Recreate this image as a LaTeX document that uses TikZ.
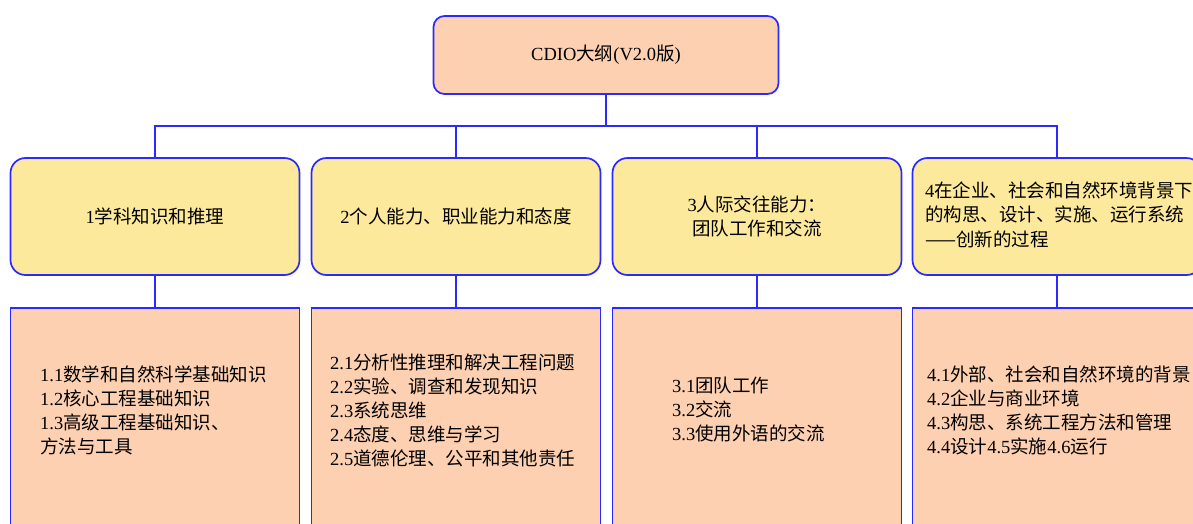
\documentclass[tikz,border=0pt]{standalone}
\usepackage{fontspec}
\setmainfont{Liberation Serif}
\newfontfamily\cjk{Noto Sans CJK SC}
\definecolor{peach}{HTML}{FDD0B1}
\definecolor{yel}{HTML}{FDE99B}
\definecolor{bl}{HTML}{2A2AFF}
\tikzset{
  topbox/.style={draw=bl, line width=1.7pt, fill=peach, rounded corners=11pt,
    minimum width=345pt, minimum height=78pt, inner sep=0pt,
    font=\fontsize{18.5}{24}\selectfont},
  ybox/.style={draw=bl, line width=1.7pt, fill=yel, rounded corners=15pt,
    minimum width=289pt, minimum height=117pt, inner sep=0pt, align=center,
    font=\fontsize{18.5}{24}\selectfont},
  pbox/.style={draw=bl, line width=1.7pt, fill=peach,
    minimum width=289pt, minimum height=260pt, inner sep=0pt, anchor=north},
  conn/.style={draw=bl, line width=1.6pt},
  txt/.style={font=\fontsize{18.5}{24}\selectfont, align=left, inner sep=0pt, anchor=west},
}
\begin{document}
\begin{tikzpicture}[x=1pt,y=-1pt]
\useasboundingbox (0,0) rectangle (1193,523);
\clip (0,0) rectangle (1193,523);
% top
\node[topbox] (top) at (606,55) {CDIO{\cjk 大纲}(V2.0{\cjk 版})};
% second level
\node[ybox] (y1) at (155,216.5) {1{\cjk 学科知识和推理}};
\node[ybox] (y2) at (456,216.5) {2{\cjk 个人能力、职业能力和态度}};
\node[ybox] (y3) at (757,216.5) {3{\cjk 人际交往能力：}\\{\cjk 团队工作和交流}};
\node[ybox] (y4) at (1057,216.5) {};
\node[txt, font=\fontsize{18.5}{24.5}\selectfont] (t4) at (925,214.5)
  {4{\cjk 在企业、社会和自然环境背景下}\\{\cjk 的构思、设计、实施、运行系统}\\{\cjk ——创新的过程}};
% third level
\node[pbox] (p1) at (155,307) {};
\node[pbox] (p2) at (456,307) {};
\node[pbox] (p3) at (757,307) {};
\node[pbox] (p4) at (1057,307) {};
\node[txt] (q1) at (40,410) {1.1{\cjk 数学和自然科学基础知识}\\1.2{\cjk 核心工程基础知识}\\1.3{\cjk 高级工程基础知识、}\\{\cjk 方法与工具}};
\node[txt] (q2) at (330,410) {2.1{\cjk 分析性推理和解决工程问题}\\2.2{\cjk 实验、调查和发现知识}\\2.3{\cjk 系统思维}\\2.4{\cjk 态度、思维与学习}\\2.5{\cjk 道德伦理、公平和其他责任}};
\node[txt] (q3) at (672,410) {3.1{\cjk 团队工作}\\3.2{\cjk 交流}\\3.3{\cjk 使用外语的交流}};
\node[txt] (q4) at (927,410) {4.1{\cjk 外部、社会和自然环境的背景}\\4.2{\cjk 企业与商业环境}\\4.3{\cjk 构思、系统工程方法和管理}\\4.4{\cjk 设计}4.5{\cjk 实施}4.6{\cjk 运行}};
% connectors
\coordinate (bus) at (606,126);
\draw[conn] (top.south) -- (top.south |- bus);
\draw[conn] (y1.north) -- (y1.north |- bus) -- (y4.north |- bus) -- (y4.north);
\draw[conn] (y2.north) -- (y2.north |- bus);
\draw[conn] (y3.north) -- (y3.north |- bus);
\draw[conn] (y1.south) -- (p1.north);
\draw[conn] (y2.south) -- (p2.north);
\draw[conn] (y3.south) -- (p3.north);
\draw[conn] (y4.south) -- (p4.north);
\end{tikzpicture}
\end{document}
